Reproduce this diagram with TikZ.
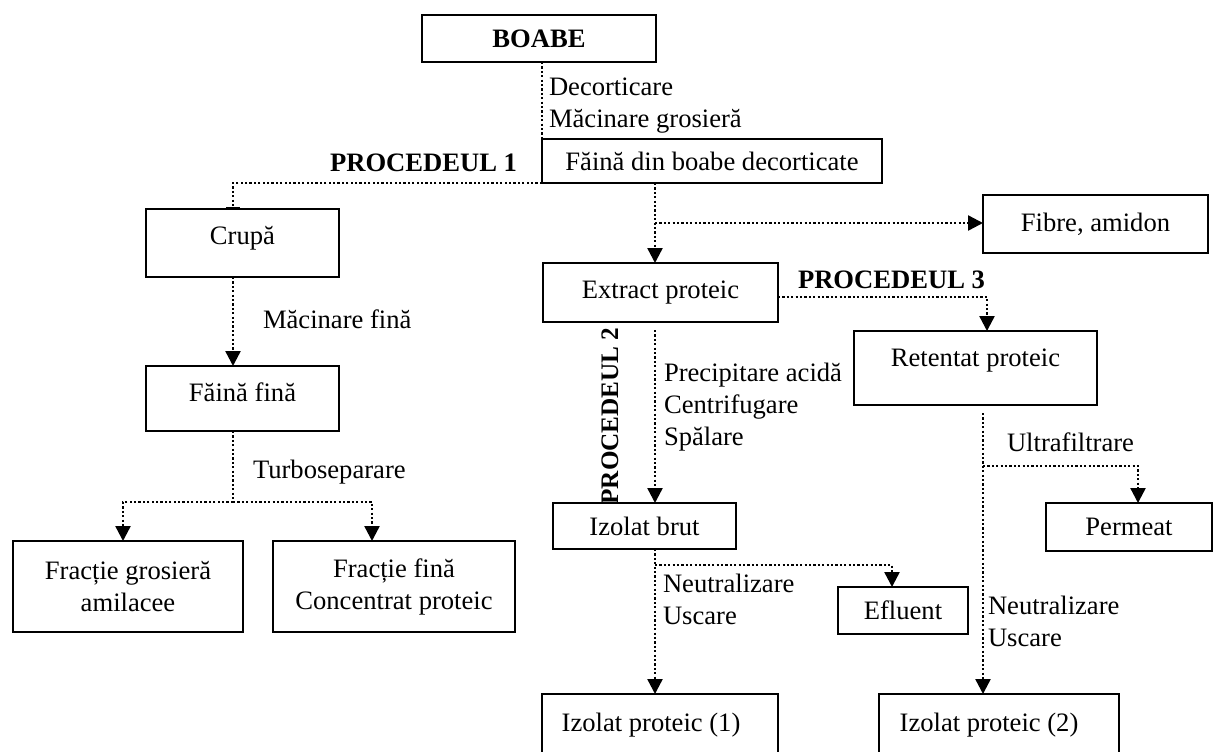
\documentclass[tikz,border=0pt]{standalone}
\usepackage{fontspec}
\setmainfont{Liberation Serif}
\usetikzlibrary{arrows.meta}

\begin{document}
\begin{tikzpicture}[
  x=0.5pt,y=-0.5pt,
  font=\fontsize{13.3}{16}\selectfont,
  every node/.style={
    text=black,align=center,outer sep=0pt
  },
  box/.style={
    draw=black,
    line width=1pt,
    inner sep=2pt
  },
  dotline/.style={
    draw=black,
    line width=1.2pt,
    dash pattern=on 1.1pt off 1.1pt
  },
  flow/.style={
    dotline,
    -{Triangle[length=7.5pt,width=7.5pt]}
  },
  steplabel/.style={
    anchor=west,
    align=left,
    inner sep=0pt
  },
  proc/.style={
    font=\fontsize{13.3}{16}\selectfont\bfseries,
    inner sep=0pt
  }
]
\path[use as bounding box] (0,0) rectangle (1215,751);

% Raw material and dehulled flour
\node[box,font=\fontsize{13.3}{16}\selectfont\bfseries,
  minimum width=117pt,minimum height=23.5pt] (boabe) at (539,38.5) {BOABE};

\node[box,minimum width=170pt,minimum height=22pt]
  (faina) at (712,161) {Făină din boabe decorticate};

% Procedeul 1 column
\node[box,minimum width=96.5pt,minimum height=34pt,text depth=8pt]
  (crupa) at (242.5,243) {Crupă};

\node[box,minimum width=96.5pt,minimum height=32.5pt,text depth=6pt]
  (fainafina) at (242.5,398.5) {Făină fină};

\node[box,minimum width=115pt,minimum height=45.5pt]
  (grosiera) at (128,586.5) {Fracție grosieră\\amilacee};

\node[box,minimum width=121pt,minimum height=45.5pt]
  (fractie) at (394,586.5) {Fracție fină\\Concentrat proteic};

% Wet extraction
\node[box,minimum width=112.5pt,minimum height=29pt]
  (fibre) at (1095.5,224) {Fibre, amidon};

\node[box,minimum width=117.5pt,minimum height=29.5pt]
  (extract) at (660.5,292.5) {Extract proteic};

\node[box,minimum width=121.5pt,minimum height=37pt,text depth=10pt]
  (retentat) at (975.5,368) {Retentat proteic};

\node[box,minimum width=91.5pt,minimum height=23pt]
  (izbrut) at (644.5,526) {Izolat brut};

\node[box,minimum width=65pt,minimum height=23.5pt]
  (efluent) at (903,610.5) {Efluent};

\node[box,minimum width=83pt,minimum height=24pt]
  (permeat) at (1129,527) {Permeat};

% Final isolates (cut by the lower edge)
\node[box,minimum width=118pt,minimum height=31pt]
  (iz1) at (660,725) {Izolat proteic (1)\hspace*{9pt}};

\node[box,minimum width=120pt,minimum height=31pt]
  (iz2) at (999,725) {Izolat proteic (2)\hspace*{10pt}};

% Process names
\node[proc,anchor=east] (p1) at (517,163) {PROCEDEUL 1};
\node[proc,rotate=90,font=\fontsize{12.6}{15}\selectfont\bfseries]
  (p2) at (610,416) {PROCEDEUL 2};
\node[proc,anchor=west] (p3) at (798,280) {PROCEDEUL 3};

% Operation labels
\node[steplabel] (decort) at (549,106)
  {Decorticare\\Măcinare grosieră};
\node[steplabel] (macfin) at (263,319) {Măcinare fină};
\node[steplabel] (turbo) at (253,472) {Turboseparare};
\node[steplabel] (precip) at (664,407)
  {Precipitare acidă\\Centrifugare\\Spălare};
\node[steplabel] (neutr1) at (663,599.5) {Neutralizare\\Uscare};
\node[steplabel] (ultra) at (1007,442) {Ultrafiltrare};
\node[steplabel] (neutr2) at (988,621.5) {Neutralizare\\Uscare};

% Columns and branch points
\coordinate (xl) at (233,0);
\coordinate (xg) at (123,0);
\coordinate (xf) at (372,0);
\coordinate (xb) at (542,0);
\coordinate (xm) at (655,0);
\coordinate (xe) at (892,0);
\coordinate (xt) at (987,0);
\coordinate (xr) at (983,0);
\coordinate (xp) at (1138,0);
\coordinate (jt) at (233,502);
\coordinate (jf) at (655,223);
\coordinate (je) at (655,565);
\coordinate (jr) at (983,466);
\coordinate (y3) at (0,297);

% Dehulling and milling
\draw[dotline] (xb |- boabe.south) -- (xb |- faina.north);

% Procedeul 1: dry fractionation
\draw[dotline,-{Bar[width=7pt]}]
  (faina.south west) -| (xl |- crupa.north);
\draw[flow] (xl |- crupa.south) -- (xl |- fainafina.north);
\draw[dotline] (xl |- fainafina.south) -- (jt);
\draw[flow] (jt) -| (xg |- grosiera.north);
\draw[flow] (jt) -| (xf |- fractie.north);

% Extraction
\draw[flow] (xm |- faina.south) -- (xm |- extract.north);
\draw[flow] (jf) -- (jf -| fibre.west);

% Procedeul 2: acid precipitation
\draw[flow,shorten <=4pt] (xm |- extract.south) -- (xm |- izbrut.north);
\draw[flow] (xm |- izbrut.south) -- (xm |- iz1.north);
\draw[flow] (je) -| (xe |- efluent.north);

% Procedeul 3: ultrafiltration
\draw[flow] (extract.east |- y3) -| (xt |- retentat.north);
\draw[flow,shorten <=4pt] (xr |- retentat.south) -- (xr |- iz2.north);
\draw[flow] (jr) -| (xp |- permeat.north);

\end{tikzpicture}
\end{document}
